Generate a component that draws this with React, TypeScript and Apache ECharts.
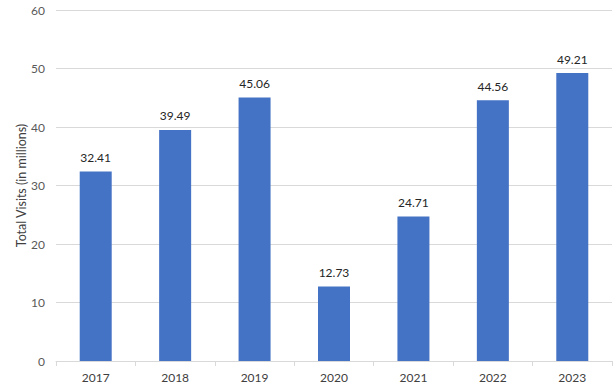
import React, { useEffect, useRef } from "react";
import * as echarts from "echarts";

const years = ["2017", "2018", "2019", "2020", "2021", "2022", "2023"];
const visits = [32.41, 39.49, 45.06, 12.73, 24.71, 44.56, 49.21];
const axisTitle = "Total Visits (in millions)";

export default function App() {
  const ref = useRef<HTMLDivElement>(null);
  useEffect(() => {
    if (!ref.current) return;
    const chart = echarts.init(ref.current, null, { renderer: "svg" });
    const font = "Lato, Carlito, Calibri, sans-serif";
    chart.setOption({
      animation: false,
      grid: { left: 56, right: 1, top: 10, bottom: 27, containLabel: false },
      xAxis: {
        type: "category",
        data: years,
        axisLine: { show: true, lineStyle: { color: "#d9d9d9", width: 1 } },
        axisTick: { show: true, alignWithLabel: false, length: 5, lineStyle: { color: "#d9d9d9" } },
        axisLabel: { color: "#404040", fontSize: 12, fontFamily: font, margin: 10 },
      },
      yAxis: {
        type: "value",
        min: 0,
        max: 60,
        interval: 10,
        name: axisTitle,
        nameLocation: "middle",
        nameGap: 28,
        nameMoveOverlap: false,
        nameTextStyle: { color: "#404040", fontSize: 12.5, fontFamily: font },
        axisLine: { show: false },
        axisTick: { show: false },
        axisLabel: { color: "#595959", fontSize: 12, fontFamily: font, margin: 11 },
        splitLine: { lineStyle: { color: "#d9d9d9", width: 1 } },
      },
      series: [
        {
          type: "bar",
          data: visits,
          barWidth: 32,
          itemStyle: { color: "#4472C4" },
          label: {
            show: true,
            position: "top",
            distance: 8,
            color: "#262626",
            fontSize: 12,
            fontFamily: font,
            formatter: (p: any) => p.value.toFixed(2),
          },
        },
      ],
    });
    return () => chart.dispose();
  }, []);
  return <div ref={ref} style={{ width: 613, height: 388, position: "absolute", left: 0, top: 0, background: "#fff" }} />;
}
